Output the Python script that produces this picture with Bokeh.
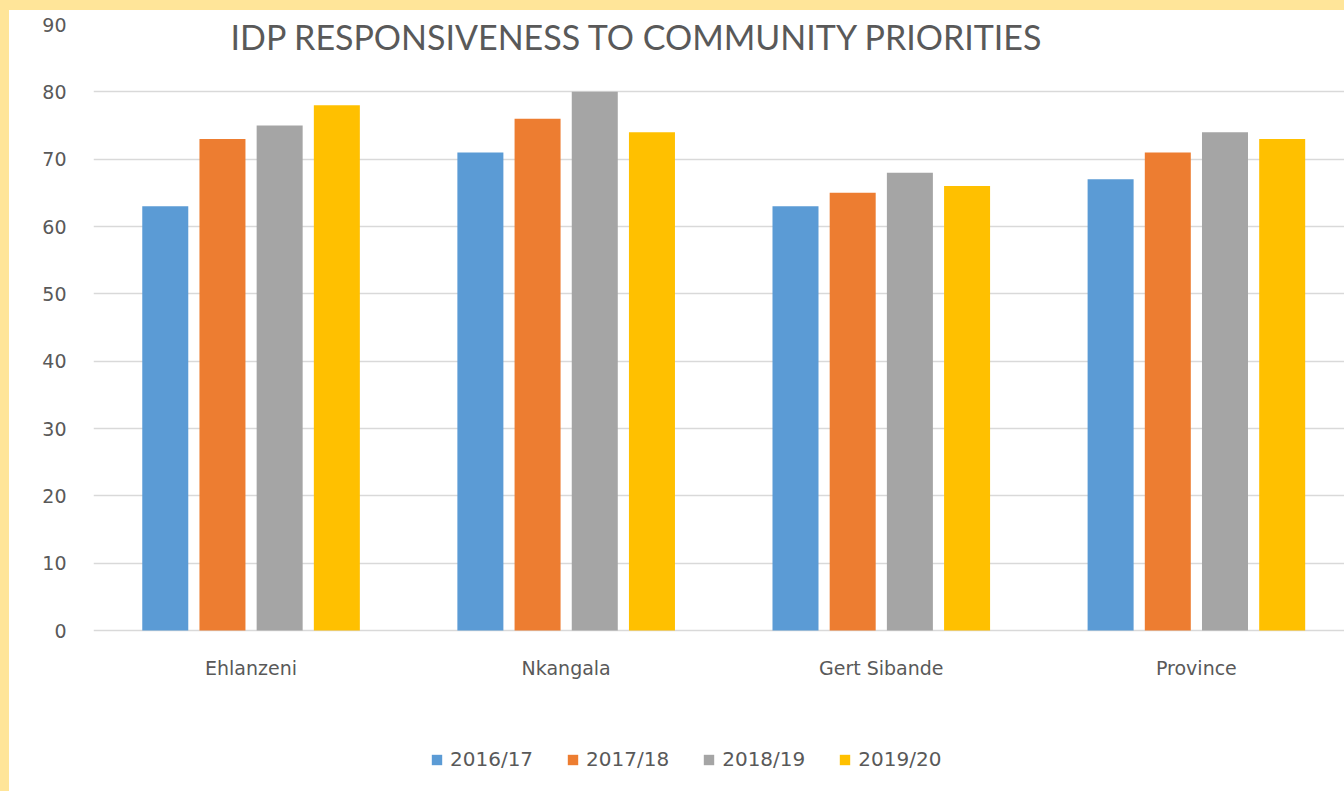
from bokeh.plotting import figure
from bokeh.models import (ColumnDataSource, FixedTicker, Legend, LegendItem, Label,
                          LabelSet, Range1d, Spacer)
from bokeh.layouts import column, row
from bokeh.transform import dodge
from bokeh.core.properties import value
from bokeh.embed import file_html
from bokeh.resources import INLINE

# ---- data ----
categories = ["Ehlanzeni", "Nkangala", "Gert Sibande", "Province"]
series_names = ["2016/17", "2017/18", "2018/19", "2019/20"]
v_2016_17 = [63, 71, 63, 67]
v_2017_18 = [73, 76, 65, 71]
v_2018_19 = [75, 80, 68, 74]
v_2019_20 = [78, 74, 66, 73]
y_ticks = [0, 10, 20, 30, 40, 50, 60, 70, 80, 90]
title_text = "IDP RESPONSIVENESS TO COMMUNITY PRIORITIES"

colors = ["#5B9BD5", "#ED7D31", "#A5A5A5", "#FFC000"]
text_color = "#595959"
grid_color = "#D9D9D9"
frame_yellow = "#FFE599"

xpos = [i + 0.5 for i in range(len(categories))]
source = ColumnDataSource(dict(x=xpos, s0=v_2016_17, s1=v_2017_18,
                               s2=v_2018_19, s3=v_2019_20,
                               cat=categories, label_y=[-5.5] * len(categories)))
series_cols = ["s0", "s1", "s2", "s3"]

W, H = 1335, 781
p = figure(width=W, height=H, output_backend="svg", toolbar_location=None,
           x_range=Range1d(0, 3.970), y_range=Range1d(-23.91, 90),
           min_border_left=84, min_border_right=0, min_border_top=14,
           min_border_bottom=0, x_axis_location=None)
p.outline_line_color = None
p.background_fill_color = "white"
p.border_fill_color = "white"

pitch = 0.1815
bw = 0.146
offsets = [-1.5 * pitch, -0.5 * pitch, 0.5 * pitch, 1.5 * pitch]
renderers = []
for i, col in enumerate(series_cols):
    r = p.vbar(x=dodge("x", offsets[i]), top=col, width=bw, source=source,
               fill_color=colors[i], line_color=None)
    renderers.append(r)

# y axis
p.yaxis.ticker = FixedTicker(ticks=y_ticks)
p.yaxis.axis_line_color = None
p.yaxis.major_tick_line_color = None
p.yaxis.minor_tick_line_color = None
p.yaxis.major_label_text_font = "DejaVu Sans"
p.yaxis.major_label_text_font_size = "19px"
p.yaxis.major_label_text_color = text_color
p.yaxis.major_label_standoff = 21

p.xgrid.grid_line_color = None
p.xgrid.visible = False
p.ygrid.grid_line_color = grid_color
p.ygrid.grid_line_width = 1.5

# category labels under the zero line
cat_labels = LabelSet(x="x", y="label_y", text="cat", source=source,
                      text_font=value("DejaVu Sans"), text_font_size=value("19px"),
                      text_color=text_color, text_align="center",
                      text_baseline="middle")
p.add_layout(cat_labels)

# title over the plot area
title = Label(x=0.4348, y=88.2, text=title_text, text_font="Lato",
              text_font_size="34px", text_color=text_color,
              text_baseline="alphabetic", text_align="left")
p.add_layout(title)

legend = Legend(items=[LegendItem(label=n, renderers=[r]) for n, r in zip(series_names, renderers)],
                orientation="horizontal", location=(337, 20),
                glyph_width=13, glyph_height=13, label_standoff=7, spacing=33,
                label_text_font="DejaVu Sans", label_text_font_size="20px",
                label_text_color=text_color, padding=0, margin=0,
                border_line_color=None, background_fill_alpha=0)
p.add_layout(legend, "center")

top_bar = Spacer(width=1344, height=10, styles={"background-color": frame_yellow})
left_bar = Spacer(width=9, height=H, styles={"background-color": frame_yellow})
layout = column(top_bar, row(left_bar, p, spacing=0), spacing=0,
                styles={"background-color": "white"})

open("out.html", "w").write(file_html(layout, INLINE))
